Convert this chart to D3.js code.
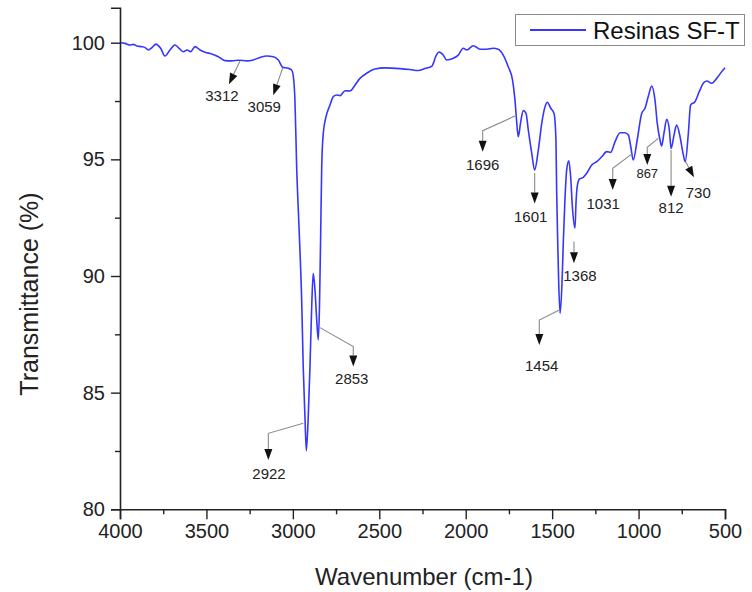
<!DOCTYPE html>
<html>
<head>
<meta charset="utf-8">
<script src="https://cdn.jsdelivr.net/npm/d3@7"></script>
<style>
  html, body { margin: 0; padding: 0; background: #fff; }
  svg { display: block; font-family: "Liberation Sans", Arial, Helvetica, sans-serif; }
</style>
</head>
<body>
<svg id="chart" width="752" height="592"></svg>
<script>
// FTIR spectrum of the SF-T resin (wavenumber in cm-1, transmittance in %)
const wavenumber = [
  4000, 3971, 3942, 3923, 3903, 3874, 3855, 3836, 3815, 3792,
  3765, 3740, 3711, 3682, 3653, 3634, 3611, 3591, 3566, 3537,
  3508, 3470, 3431, 3393, 3354, 3312, 3267, 3229, 3190, 3151,
  3113, 3084, 3059, 3026, 3007, 2997, 2988, 2978, 2963, 2949,
  2940, 2930, 2922, 2911, 2901, 2891, 2882, 2872, 2862, 2853,
  2846, 2839, 2833, 2824, 2808, 2785, 2766, 2746, 2727, 2698,
  2669, 2640, 2612, 2571, 2525, 2467, 2380, 2322, 2276, 2236,
  2195, 2172, 2155, 2130, 2110, 2072, 2043, 2014, 1994, 1956,
  1917, 1879, 1840, 1812, 1783, 1754, 1729, 1715, 1706, 1696,
  1683, 1667, 1651, 1638, 1618, 1601, 1580, 1560, 1541, 1528,
  1508, 1489, 1478, 1474, 1468, 1462, 1454, 1443, 1435, 1426,
  1416, 1404, 1393, 1383, 1368, 1362, 1355, 1343, 1320, 1300,
  1271, 1242, 1213, 1184, 1161, 1136, 1107, 1079, 1059, 1045,
  1031, 1008, 982, 963, 944, 924, 905, 892, 876, 867,
  853, 837, 822, 812, 795, 780, 760, 741, 730, 712,
  699, 674, 649, 626, 606, 577, 548, 519, 500
];
const transmittance = [
  100.00, 99.97, 99.90, 99.93, 99.86, 99.83, 99.79, 99.69, 99.79, 99.94,
  99.76, 99.43, 99.69, 99.90, 99.72, 99.61, 99.69, 99.61, 99.83, 99.69,
  99.59, 99.52, 99.40, 99.23, 99.22, 99.25, 99.22, 99.26, 99.37, 99.43,
  99.40, 99.26, 98.95, 98.90, 98.83, 98.54, 97.54, 94.69, 91.84, 88.97,
  86.11, 83.97, 82.51, 83.97, 86.11, 88.69, 90.12, 89.40, 88.12, 87.26,
  88.69, 91.83, 94.69, 96.12, 96.83, 97.33, 97.69, 97.76, 97.73, 97.94,
  97.93, 98.19, 98.47, 98.70, 98.87, 98.92, 98.89, 98.85, 98.81, 98.89,
  99.00, 99.43, 99.60, 99.47, 99.26, 99.33, 99.47, 99.76, 99.69, 99.87,
  99.72, 99.72, 99.76, 99.72, 99.47, 98.97, 98.40, 97.54, 96.69, 95.97,
  96.55, 97.09, 96.97, 96.26, 95.26, 94.54, 95.40, 96.55, 97.26, 97.45,
  97.19, 96.97, 95.83, 93.69, 91.54, 89.69, 88.40, 89.69, 91.54, 93.26,
  94.54, 94.94, 94.26, 92.97, 92.05, 93.12, 93.83, 94.15, 94.23, 94.40,
  94.76, 94.90, 95.11, 95.33, 95.30, 95.76, 96.14, 96.14, 96.04, 95.54,
  94.97, 95.83, 96.97, 97.19, 97.69, 98.14, 97.54, 96.55, 95.83, 95.57,
  96.12, 96.72, 96.26, 95.47, 96.04, 96.47, 95.97, 95.19, 94.90, 96.12,
  97.33, 97.47, 97.90, 98.26, 98.36, 98.26, 98.47, 98.76, 98.93
];

// Band positions that are labelled on the spectrum
const peakLabels = [3312, 3059, 2922, 2853, 1696, 1601, 1454, 1368, 1031, 867, 812, 730];

const xTicks = [4000, 3500, 3000, 2500, 2000, 1500, 1000, 500];
const yTicks = [80, 85, 90, 95, 100];
const seriesName = "Resinas SF-T";

// ---- layout ----
const svg = d3.select("#chart");
const margin = { left: 120, right: 27, top: 7.7, bottom: 82.7 };
const W = 752, H = 592;

const x = d3.scaleLinear().domain([4000, 500]).range([margin.left, W - margin.right]);
const y = d3.scaleLinear().domain([80, 101.5]).range([H - margin.bottom, margin.top]);

const axisColor = "#222";
const lineColor = "#3636ff";

// ---- spectrum ----
const pts = wavenumber.map((w, i) => [w, transmittance[i]]);
const line = d3.line()
  .x(d => x(d[0]))
  .y(d => y(d[1]))
  .curve(d3.curveMonotoneX);

svg.append("path")
  .datum(pts)
  .attr("fill", "none")
  .attr("stroke", lineColor)
  .attr("stroke-width", 1.6)
  .attr("stroke-linejoin", "round")
  .attr("d", line);

// ---- axes ----
const xAxis = svg.append("g")
  .attr("transform", `translate(0,${y(80)})`)
  .call(d3.axisBottom(x).tickValues(xTicks).tickSize(10).tickPadding(5).tickFormat(d3.format("d")));
const xMinor = svg.append("g")
  .attr("transform", `translate(0,${y(80)})`)
  .call(d3.axisBottom(x).tickValues(d3.range(3750, 500, -500)).tickSize(5).tickFormat(""));

const yAxis = svg.append("g")
  .attr("transform", `translate(${x(4000)},0)`)
  .call(d3.axisLeft(y).tickValues(yTicks).tickSize(9).tickPadding(6).tickFormat(d3.format("d")));
const yMinor = svg.append("g")
  .attr("transform", `translate(${x(4000)},0)`)
  .call(d3.axisLeft(y).tickValues([82.5, 87.5, 92.5, 97.5]).tickSize(5).tickFormat(""));

[xAxis, xMinor, yAxis, yMinor].forEach(g => {
  g.select(".domain").attr("stroke", axisColor).attr("stroke-width", 1.6);
  g.selectAll(".tick line").attr("stroke", axisColor).attr("stroke-width", 1.4);
  g.selectAll(".tick text")
    .attr("fill", "#222")
    .style("font-size", "20px")
    .style("font-family", "'Liberation Sans', Arial, sans-serif");
});
xMinor.select(".domain").remove();
yMinor.select(".domain").remove();

// axis titles
svg.append("text")
  .attr("x", 424).attr("y", 585)
  .attr("text-anchor", "middle")
  .attr("fill", "#222")
  .style("font-size", "24px")
  .text("Wavenumber (cm-1)");

svg.append("text")
  .attr("transform", "translate(38,294) rotate(-90)")
  .attr("text-anchor", "middle")
  .attr("fill", "#222")
  .style("font-size", "25px")
  .text("Transmittance (%)");

// ---- band annotations: grey leader with a black arrowhead and the wavenumber ----
// offsets (px) are relative to the spectrum point at the labelled wavenumber
const leaderLayout = {
  3312: { path: [[1, 1], [-10, 24]], label: [-17, 40.5] },
  3059: { path: [[0, 1], [-9.4, 28]], label: [-18.4, 44.7] },
  2922: { path: [[-3, -27.4], [-38, -17.4], [-38, 9.3]], label: [-37.3, 28.5] },
  2853: { path: [[1.7, -12.3], [35, 6.7], [35, 26.7]], label: [33.5, 44] },
  1696: { path: [[-3.3, -20.7], [-35.6, -6], [-35.6, 15]], label: [-35.6, 33.5] },
  1601: { path: [[0, 3], [0, 33.3]], label: [-4, 52] },
  1454: { path: [[-0.8, -3.3], [-20.8, 6.7], [-20.8, 31.7]], label: [-18.4, 57.7] },
  1368: { path: [[-1, 13.4], [-1, 35]], label: [5, 52.7] },
  1031: { path: [[-0.5, -6.7], [-20.5, 8.3], [-20.5, 30]], label: [-30, 49] },
  867:  { path: [[-3.3, -7.7], [-14.3, 1.3], [-14.3, 19]], label: [-14.3, 32], size: 13 },
  812:  { path: [[0, 1.7], [0, 48.4]], label: [0, 64.7] },
  730:  { path: [[0.4, 0], [8.7, 15.6]], label: [13, 36.3] }
};

const ann = svg.append("g");
const headLen = 11, headHalf = 4;

peakLabels.forEach(w => {
  const i = wavenumber.indexOf(w);
  const ax = x(w), ay = y(transmittance[i]);
  const L = leaderLayout[w];
  const p = L.path.map(([dx, dy]) => [ax + dx, ay + dy]);

  // direction of the last segment, for the arrowhead
  const tip = p[p.length - 1], prev = p[p.length - 2];
  const vx = tip[0] - prev[0], vy = tip[1] - prev[1];
  const len = Math.hypot(vx, vy);
  const ux = vx / len, uy = vy / len;
  const base = [tip[0] - ux * headLen, tip[1] - uy * headLen];

  const linePts = p.slice(0, -1).concat([base]);
  ann.append("path")
    .attr("d", d3.line()(linePts))
    .attr("fill", "none")
    .attr("stroke", "#8a8a8a")
    .attr("stroke-width", 1.1);

  ann.append("path")
    .attr("d", d3.line()([
      tip,
      [base[0] - uy * headHalf, base[1] + ux * headHalf],
      [base[0] + uy * headHalf, base[1] - ux * headHalf]
    ]) + "Z")
    .attr("fill", "#111");

  ann.append("text")
    .attr("x", ax + L.label[0])
    .attr("y", ay + L.label[1])
    .attr("text-anchor", "middle")
    .attr("fill", "#222")
    .style("font-size", (L.size || 15) + "px")
    .text(w);
});

// ---- legend ----
const lg = svg.append("g");
lg.append("rect")
  .attr("x", 515.5).attr("y", 14.5)
  .attr("width", 229).attr("height", 31)
  .attr("fill", "#fff")
  .attr("stroke", "#8a8a8a")
  .attr("stroke-width", 1);
lg.append("line")
  .attr("x1", 530).attr("x2", 586)
  .attr("y1", 30).attr("y2", 30)
  .attr("stroke", lineColor)
  .attr("stroke-width", 1.8);
lg.append("text")
  .attr("x", 593).attr("y", 39)
  .attr("fill", "#111")
  .style("font-size", "24px")
  .text(seriesName);
</script>
</body>
</html>
